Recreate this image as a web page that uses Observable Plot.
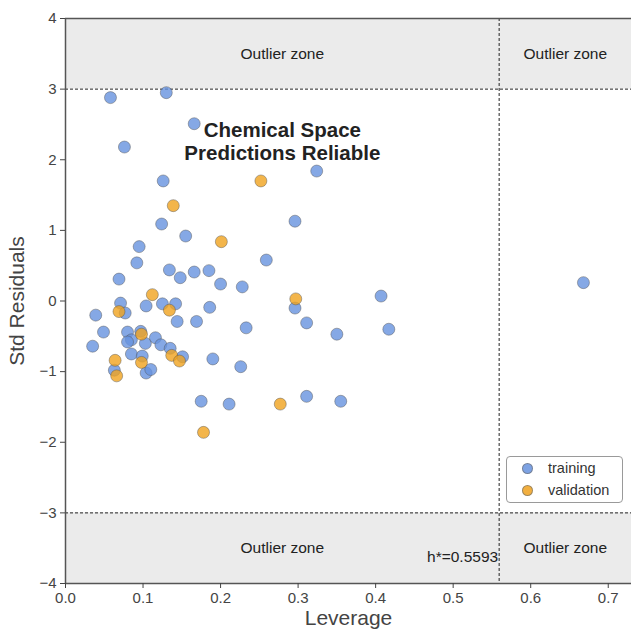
<!DOCTYPE html>
<html>
<head>
<meta charset="utf-8">
<script src="https://cdn.jsdelivr.net/npm/d3@7"></script>
<script src="https://cdn.jsdelivr.net/npm/@observablehq/plot@0.6"></script>
<style>
  html, body { margin: 0; padding: 0; background: #fff; }
  #wrap { position: relative; width: 631px; height: 630px; font-family: "Liberation Sans", Arial, sans-serif; }
  #legend { position: absolute; left: 506px; top: 456px; width: 115px; height: 45px; border: 1px solid #9a9a9a; border-radius: 4px; background: rgba(255,255,255,0.85); font-size: 14.5px; color: #333; }
  .li { position: absolute; left: 0; height: 20px; display: flex; align-items: center; }
  .dot { display: inline-block; width: 11px; height: 11px; border-radius: 50%; margin-left: 15px; margin-right: 15px; box-sizing: border-box; border: 0.8px solid rgba(80,80,80,0.6); }
</style>
</head>
<body>
<div id="wrap"></div>
<script>
// Training set: leverage, standardized residual
const trainLeverage = [0.058,0.130,0.166,0.076,0.324,0.126,0.124,0.296,0.155,0.095,0.259,0.092,0.134,0.148,0.166,0.185,0.069,0.200,0.228,0.296,0.071,0.104,0.125,0.142,0.186,0.077,0.039,0.407,0.668,0.049,0.035,0.080,0.085,0.080,0.097,0.103,0.116,0.123,0.085,0.099,0.135,0.151,0.063,0.104,0.110,0.144,0.169,0.190,0.226,0.233,0.175,0.211,0.311,0.311,0.350,0.417,0.355];
const trainResid    = [2.88,2.95,2.51,2.18,1.84,1.70,1.09,1.13,0.92,0.77,0.58,0.54,0.44,0.33,0.41,0.43,0.31,0.24,0.20,-0.10,-0.03,-0.07,-0.04,-0.04,-0.09,-0.17,-0.20,0.07,0.26,-0.44,-0.64,-0.44,-0.55,-0.58,-0.43,-0.60,-0.52,-0.62,-0.75,-0.78,-0.67,-0.79,-0.98,-1.02,-0.97,-0.29,-0.29,-0.82,-0.93,-0.38,-1.42,-1.46,-1.35,-0.31,-0.47,-0.40,-1.42];
// Validation set
const validLeverage = [0.252,0.139,0.201,0.112,0.297,0.069,0.134,0.064,0.066,0.098,0.098,0.137,0.147,0.277,0.178];
const validResid    = [1.70,1.35,0.84,0.09,0.03,-0.15,-0.13,-0.84,-1.06,-0.47,-0.87,-0.77,-0.85,-1.46,-1.86];

const hStar = 0.5593;
const residLimit = 3;
const xMax = 0.73;
const xTicks = [0, 0.1, 0.2, 0.3, 0.4, 0.5, 0.6, 0.7];
const yTicks = [-4, -3, -2, -1, 0, 1, 2, 3, 4];
const seriesNames = ["training", "validation"];
const seriesColors = ["#6792df", "#f0a21e"];

const training = trainLeverage.map((x, i) => ({x, y: trainResid[i]}));
const validation = validLeverage.map((x, i) => ({x, y: validResid[i]}));
const zones = [{y1: residLimit, y2: 4}, {y1: -4, y2: -residLimit}];
const zoneLabels = [
  {x: hStar / 2, y: 3.5}, {x: (hStar + xMax) / 2, y: 3.5},
  {x: hStar / 2, y: -3.5}, {x: (hStar + xMax) / 2, y: -3.5}
];

const ink = "#333";
const chart = Plot.plot({
  width: 631,
  height: 630,
  marginLeft: 65,
  marginRight: 0,
  marginTop: 18,
  marginBottom: 47,
  style: {fontFamily: "'Liberation Sans', Arial, sans-serif", background: "white", color: ink},
  x: {domain: [0, xMax]},
  y: {domain: [-4, 4]},
  marks: [
    Plot.rect(zones, {y1: "y1", y2: "y2", fill: "#ebebeb"}),
    Plot.ruleY([residLimit, -residLimit], {stroke: "#222", strokeWidth: 1, strokeDasharray: "3,2"}),
    Plot.ruleX([hStar], {stroke: "#222", strokeWidth: 1, strokeDasharray: "3,2"}),
    Plot.text(zoneLabels, {x: "x", y: "y", text: () => "Outlier zone", fontSize: 15.5, fill: "#222"}),
    Plot.text([hStar], {x: d => d, y: () => -3.63, text: () => "h*=" + hStar, textAnchor: "end", dx: -1, fontSize: 15.5, fill: "#222"}),
    Plot.text(["Chemical Space\nPredictions Reliable"], {x: () => hStar / 2, y: () => 2.26, text: d => d, fontSize: 20.5, fontWeight: "bold", fill: "#222", lineHeight: 1.12}),
    Plot.dot(training, {x: "x", y: "y", r: 6, fill: seriesColors[0], fillOpacity: 0.8, stroke: "#505050", strokeOpacity: 0.55, strokeWidth: 0.8}),
    Plot.dot(validation, {x: "x", y: "y", r: 6, fill: seriesColors[1], fillOpacity: 0.8, stroke: "#505050", strokeOpacity: 0.55, strokeWidth: 0.8}),
    Plot.ruleX([0], {stroke: "#555", strokeWidth: 1.5}),
    Plot.ruleY([-4, 4], {stroke: "#555", strokeWidth: 1.5}),
    Plot.axisX({ticks: xTicks, tickFormat: d3.format(".1f"), tickSize: 5, tickPadding: 4, fontSize: 15, label: "Leverage", labelAnchor: "center", labelArrow: "none", labelOffset: 41, color: "#444"}),
    Plot.axisY({ticks: yTicks, tickFormat: d => d < 0 ? "\u2212" + Math.abs(d) : String(d), tickSize: 5, tickPadding: 4, fontSize: 15, label: "Std Residuals", labelAnchor: "center", labelArrow: "none", labelOffset: 56, color: "#444"})
  ]
});

// enlarge axis label fonts
chart.querySelectorAll("g[aria-label='x-axis label'] text, g[aria-label='y-axis label'] text").forEach(t => {
  t.setAttribute("font-size", 21);
  t.style.fontSize = "21px";
});

const wrap = document.getElementById("wrap");
wrap.appendChild(chart);

const legend = document.createElement("div");
legend.id = "legend";
seriesNames.forEach((name, i) => {
  const row = document.createElement("div");
  row.className = "li";
  row.style.top = (1 + i * 22) + "px";
  const dot = document.createElement("span");
  dot.className = "dot";
  dot.style.background = seriesColors[i];
  dot.style.opacity = 0.85;
  const lab = document.createElement("span");
  lab.textContent = name;
  row.appendChild(dot);
  row.appendChild(lab);
  legend.appendChild(row);
});
wrap.appendChild(legend);
</script>
</body>
</html>
